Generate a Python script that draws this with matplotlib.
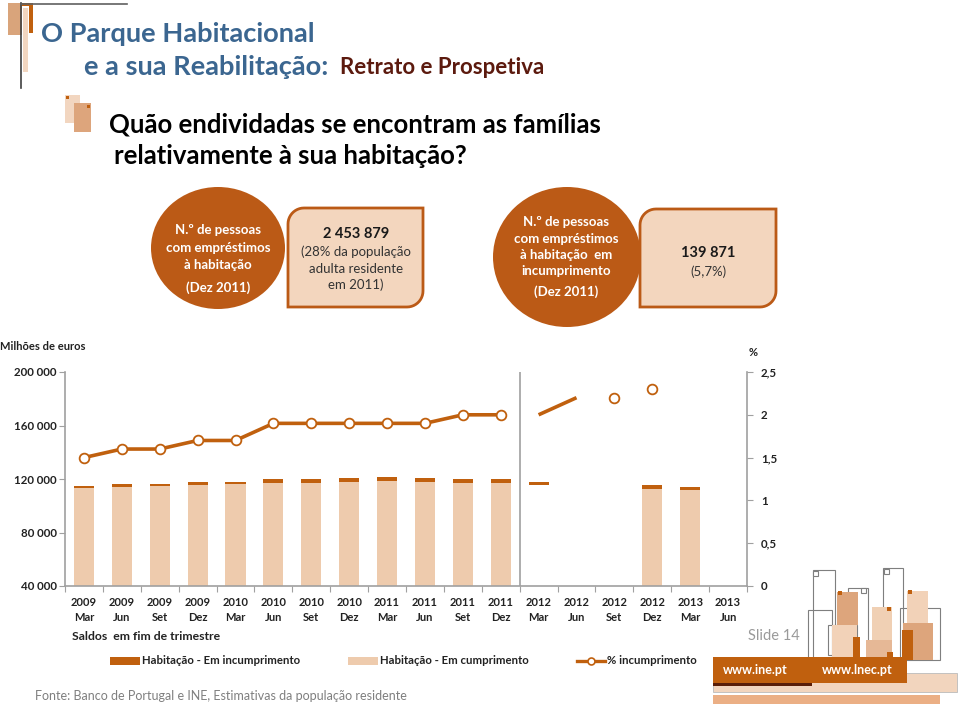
import numpy as np
import matplotlib
matplotlib.use("Agg")
import matplotlib.pyplot as plt
from matplotlib.patches import Ellipse, Rectangle, Polygon

plt.rcParams['font.family'] = ['Lato', 'DejaVu Sans']

# ---------------- data ----------------
years = ["2009"] * 4 + ["2010"] * 4 + ["2011"] * 4 + ["2012"] * 4 + ["2013"] * 2
quarters = ["Mar", "Jun", "Set", "Dez"] * 4 + ["Mar", "Jun"]
em_cumprimento = [113050, 114020, 115000, 115520, 116490, 117240, 117240, 117990,
                  118750, 117990, 117240, 117240, 115520, np.nan, np.nan, 112300,
                  111770, np.nan]
em_incumprimento = [1900, 2500, 1300, 2500, 1500, 2550, 2550, 2550,
                    2750, 2750, 2550, 2550, 2450, np.nan, np.nan, 3200,
                    2250, np.nan]
pct_incumprimento = [1.5, 1.6, 1.6, 1.7, 1.7, 1.9, 1.9, 1.9, 1.9, 1.9, 2.0, 2.0,
                     2.0, 2.2, 2.2, 2.3, np.nan, np.nan]
left_ticks = [40000, 80000, 120000, 160000, 200000]
left_labels = ["40 000", "80 000", "120 000", "160 000", "200 000"]
right_ticks = [0, 0.5, 1, 1.5, 2, 2.5]
right_labels = ["0", "0,5", "1", "1,5", "2", "2,5"]
light_visible = [True] * 12 + [False, False, False, True, True, False]

DARK = '#C0600E'
LIGHT = '#EECBAD'
CIRC = '#BB5A16'
BOXF = '#F3D6BE'
GREY = '#A0A0A0'

W, H = 960, 707
fig = plt.figure(figsize=(W / 100, H / 100), dpi=100)
fig.patch.set_facecolor('white')

bg = fig.add_axes([0, 0, 1, 1])
bg.set_xlim(0, W)
bg.set_ylim(H, 0)
bg.axis('off')


def rect(x0, y0, x1, y1, fc, ec='none', lw=0, z=1):
    bg.add_patch(Rectangle((x0, y0), x1 - x0, y1 - y0, facecolor=fc,
                           edgecolor=ec, linewidth=lw, zorder=z))


# header decoration
rect(8, 3, 22, 35, '#D9A47B')
rect(23, 8, 28, 72, '#F2D6C0')
rect(22, 3, 33, 6, DARK)
rect(29, 3, 33, 33, DARK)
bg.plot([21, 21], [3, 88], color='#404040', lw=1.2, zorder=3)
bg.plot([21, 127], [4, 4], color='#606060', lw=1.2, zorder=3)

bg.text(41, 34, "O Parque Habitacional", fontsize=19.6, fontweight='bold',
        color='#3B6690', va='center', ha='left')
bg.text(84, 67, "e a sua Reabilitação:", fontsize=19.6, fontweight='bold',
        color='#3B6690', va='center', ha='left')
bg.text(340, 68, "Retrato e Prospetiva", fontsize=16, fontweight='bold',
        color='#5C1A0E', va='center', ha='left')

# question bullet
rect(65, 95, 80, 123, '#F2D6C0')
rect(74, 103, 91, 132, '#DDA57C')
rect(66, 96, 69, 99, DARK)
rect(87, 105, 90, 108, DARK)
bg.text(109, 125, "Quão endividadas se encontram as famílias", fontsize=18.5,
        fontweight='bold', color='black', va='center', ha='left')
bg.text(114, 156, "relativamente à sua habitação?", fontsize=18.5,
        fontweight='bold', color='black', va='center', ha='left')


def snip_box(x0, y0, x1, y1, r):
    pts = []
    for t in np.linspace(0, np.pi / 2, 12):
        pts.append((x0 + r - r * np.cos(t), y0 + r - r * np.sin(t)))
    pts.append((x1, y0))
    for t in np.linspace(0, np.pi / 2, 12):
        pts.append((x1 - r + r * np.cos(t), y1 - r + r * np.sin(t)))
    pts.append((x0, y1))
    bg.add_patch(Polygon(pts, closed=True, facecolor=BOXF, edgecolor=CIRC,
                         linewidth=2, zorder=2))


snip_box(288, 208, 423, 307, 16)
snip_box(640, 209, 776, 307, 16)
bg.add_patch(Ellipse((218, 248), 134, 122, facecolor=CIRC, edgecolor='none', zorder=3))
bg.add_patch(Ellipse((567, 257), 148, 140, facecolor=CIRC, edgecolor='none', zorder=3))

for y, s in [(230, "N.º de pessoas"), (248, "com empréstimos"), (265, "à habitação"),
             (288, "(Dez 2011)")]:
    bg.text(218, y, s, fontsize=9.5, fontweight='bold', color='white',
            ha='center', va='center', zorder=4)
for y, s in [(222, "N.º de pessoas"), (239, "com empréstimos"), (255, "à habitação  em"),
             (271, "incumprimento"), (292, "(Dez 2011)")]:
    bg.text(566, y, s, fontsize=9.5, fontweight='bold', color='white',
            ha='center', va='center', zorder=4)

bg.text(356, 234, "2 453 879", fontsize=10.5, fontweight='bold', color='#1a1a1a',
        ha='center', va='center', zorder=4)
for y, s in [(252, "(28% da população"), (269, "adulta residente"), (285, "em 2011)")]:
    bg.text(356, y, s, fontsize=9.5, color='#333333', ha='center', va='center', zorder=4)
bg.text(708, 253, "139 871", fontsize=10.5, fontweight='bold', color='#1a1a1a',
        ha='center', va='center', zorder=4)
bg.text(708, 272, "(5,7%)", fontsize=9.5, color='#333333', ha='center', va='center', zorder=4)

# chart labels
bg.text(0, 347, "Milhões de euros", fontsize=8, fontweight='bold', color='#222222',
        ha='left', va='center')
bg.text(749, 353, "%", fontsize=8, fontweight='bold', color='#222222',
        ha='left', va='center')
bg.text(72, 636, "Saldos  em fim de trimestre", fontsize=8.8, fontweight='bold',
        color='#222222', ha='left', va='center')

# legend
rect(110, 657, 140, 665, DARK)
bg.text(142, 661, "Habitação - Em incumprimento", fontsize=8.2, fontweight='bold',
        color='#222222', ha='left', va='center')
rect(348, 657, 378, 665, LIGHT)
bg.text(380, 661, "Habitação - Em cumprimento", fontsize=8.2, fontweight='bold',
        color='#222222', ha='left', va='center')
bg.plot([577, 605], [661, 661], color=DARK, lw=2.4, zorder=3)
bg.plot([591], [661], marker='o', markersize=5, markerfacecolor='white',
        markeredgecolor=DARK, markeredgewidth=1.2, zorder=4)
bg.text(607, 661, "% incumprimento", fontsize=8.2, fontweight='bold',
        color='#222222', ha='left', va='center')

bg.text(35, 696, "Fonte: Banco de Portugal e INE, Estimativas da população residente",
        fontsize=9, color='#7F7F7F', ha='left', va='center')
bg.text(748, 636, "Slide 14", fontsize=10.5, color='#9A9A9A', ha='left', va='center')

# logo (bottom right)
for (x0, y0, x1, y1) in [(813, 570, 835, 660), (808, 610, 832, 660), (848, 588, 868, 660),
                         (883, 568, 903, 660), (828, 625, 857, 655), (900, 608, 940, 660)]:
    rect(x0, y0, x1, y1, 'none', '#7F7F7F', 0.8, z=2)
for (fc, x0, y0, x1, y1) in [('#DDA57C', 837, 592, 858, 625), ('#F2D2B8', 832, 625, 857, 660),
                             ('#F0D0B4', 872, 607, 892, 660), ('#E6B896', 866, 640, 892, 660),
                             ('#F2D2B8', 907, 591, 928, 623), ('#DDA57C', 903, 623, 933, 660)]:
    rect(x0, y0, x1, y1, fc, z=3)
for (x0, y0, x1, y1) in [(853, 637, 860, 660), (902, 630, 913, 660), (887, 652, 893, 660),
                         (838, 591, 842, 595), (887, 607, 891, 611), (908, 590, 912, 594)]:
    rect(x0, y0, x1, y1, DARK, z=4)
for (x0, y0) in [(813, 571), (861, 588), (884, 569)]:
    rect(x0, y0, x0 + 5, y0 + 5, 'white', '#7F7F7F', 0.8, z=4)
rect(713, 673, 957, 692, '#F2D5BE', '#BBBBBB', 0.6, z=5)
rect(713, 695, 940, 704, '#EBAF85', z=5)
rect(713, 657, 907, 683, DARK, z=6)
rect(713, 683, 812, 686, '#5A1E08', z=7)
bg.text(723, 670, "www.ine.pt", fontsize=9, fontweight='bold', color='white',
        ha='left', va='center', zorder=8)
bg.text(822, 670, "www.lnec.pt", fontsize=9, fontweight='bold', color='white',
        ha='left', va='center', zorder=8)

# ---------------- chart ----------------
ax = fig.add_axes([65 / W, (H - 586) / H, 682 / W, 214 / H])
ax.set_facecolor('none')
x = np.arange(len(years))
cump = np.array(em_cumprimento, dtype=float)
inc = np.array(em_incumprimento, dtype=float)
base = np.array([117240 if np.isnan(c) else c for c in cump])
base[12] = 115520
light_colors = [LIGHT if v else 'none' for v in light_visible]
ax.bar(x, cump, width=0.53, color=light_colors, zorder=2)
ax.bar(x, inc, bottom=base, width=0.53, color=DARK, zorder=3)
ax.set_xlim(-0.5, len(years) - 0.5)
ax.set_ylim(40000, 200000)
ax.set_yticks(left_ticks)
ax.set_yticklabels(left_labels)
ax.axvline(11.5, color=GREY, lw=1.2, zorder=1)

ax.set_xticks(np.arange(-0.5, len(years), 1))
ax.set_xticklabels([])
ax.set_xticks(x, minor=True)
ax.set_xticklabels([f"{y}\n{q}" for y, q in zip(years, quarters)], minor=True,
                   fontsize=8, fontweight='bold', color='#222222', linespacing=1.45)
ax.tick_params(axis='x', which='major', length=4, color=GREY, direction='out')
ax.tick_params(axis='x', which='minor', length=0, pad=8)
ax.tick_params(axis='y', length=4, color=GREY, direction='out', pad=2)
for lab in ax.get_yticklabels():
    lab.set_fontsize(8.3)
    lab.set_fontweight('bold')
    lab.set_color('#222222')
for s in ['top', 'right']:
    ax.spines[s].set_visible(False)
for s in ['left', 'bottom']:
    ax.spines[s].set_color(GREY)
    ax.spines[s].set_linewidth(1.2)

ax2 = ax.twinx()
ax2.set_ylim(0, 2.5)
ax2.set_yticks(right_ticks)
ax2.set_yticklabels(right_labels, fontsize=8.3, fontweight='bold', color='#222222')
ax2.tick_params(axis='y', length=4, color=GREY, direction='out', pad=6)
for s in ['top', 'left', 'bottom']:
    ax2.spines[s].set_visible(False)
ax2.spines['right'].set_color(GREY)
ax2.spines['right'].set_linewidth(1.2)
pct = np.array(pct_incumprimento, dtype=float)
ax2.plot(x[0:12], pct[0:12], color=DARK, lw=2.6, marker='o', markersize=7,
         markerfacecolor='white', markeredgecolor=DARK, markeredgewidth=1.3, zorder=4)
ax2.plot(x[12:14], pct[12:14], color=DARK, lw=2.6, zorder=4, solid_capstyle='butt')
ax2.plot(x[14:16], pct[14:16], linestyle='none', marker='o', markersize=7,
         markerfacecolor='white', markeredgecolor=DARK, markeredgewidth=1.3, zorder=4)

fig.savefig("out.png", dpi=100, facecolor='white')
